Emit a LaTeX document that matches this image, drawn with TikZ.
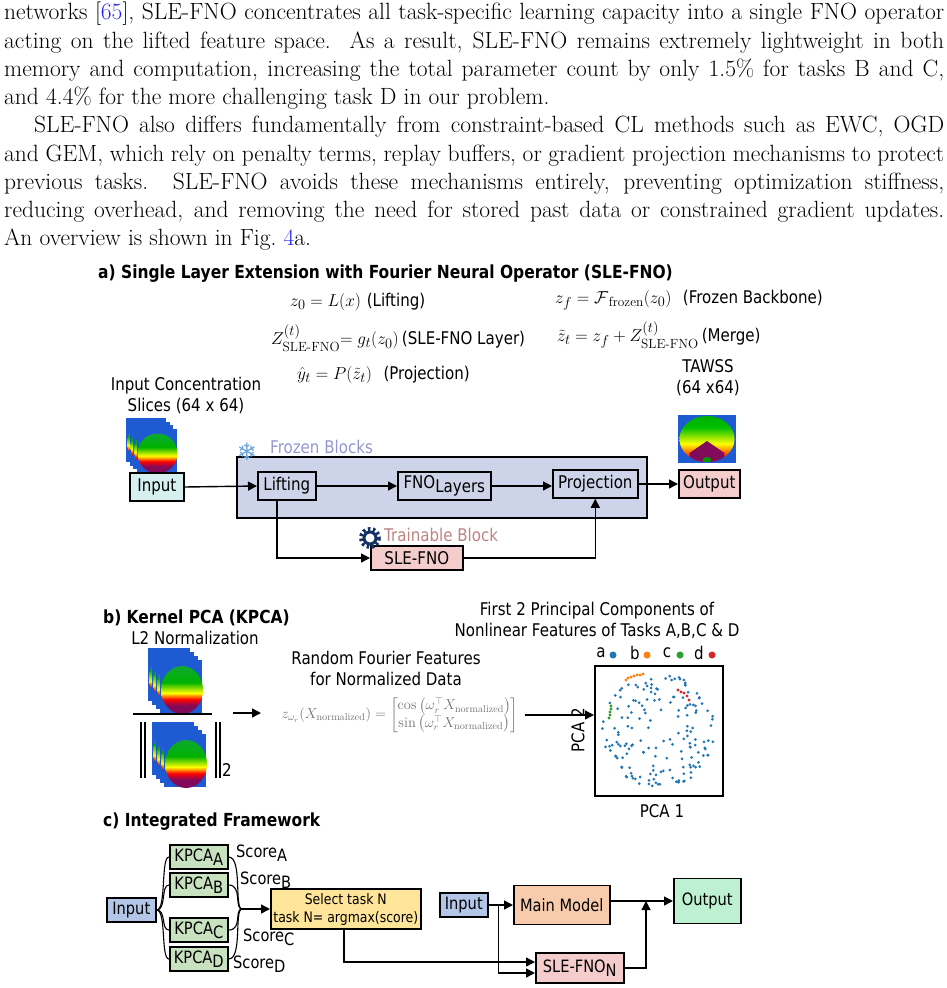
\documentclass[tikz,border=0pt]{standalone}
\usepackage{amsmath,amssymb}
\usepackage{graphicx}
\usepackage{fontspec}
\newfontfamily\dsf{DejaVu Sans}[FakeStretch=0.86]
\newfontfamily\dsfb{DejaVu Sans Bold}[FakeStretch=0.86]
\newfontfamily\djv{DejaVu Sans}
\usetikzlibrary{arrows.meta,calc}
\definecolor{linkblue}{RGB}{40,40,230}
\definecolor{frozenfill}{RGB}{205,211,232}
\definecolor{frozentxt}{RGB}{150,150,210}
\definecolor{traintxt}{RGB}{190,130,130}
\definecolor{pinkfill}{RGB}{244,204,204}
\definecolor{cyanfill}{RGB}{214,240,240}
\definecolor{bluefill}{RGB}{180,198,231}
\definecolor{greenfill}{RGB}{200,225,190}
\definecolor{yellowfill}{RGB}{255,229,153}
\definecolor{orangefill}{RGB}{248,203,173}
\definecolor{outgreen}{RGB}{190,240,210}
\definecolor{gearblue}{RGB}{20,50,100}
\definecolor{pa}{RGB}{31,119,180}
\definecolor{pb}{RGB}{255,127,14}
\definecolor{pc}{RGB}{44,160,44}
\definecolor{pd}{RGB}{214,39,40}
\definecolor{bgblue}{RGB}{30,90,210}
\definecolor{htop}{RGB}{40,150,140}
\definecolor{hpur}{RGB}{130,10,90}
\pgfdeclareverticalshading{heatsh}{100bp}{color(0bp)=(hpur); color(34bp)=(hpur); color(40bp)=(red); color(46bp)=(yellow); color(56bp)=(green!70!black); color(100bp)=(htop)}
\pgfdeclareverticalshading{tawsh}{100bp}{color(0bp)=(hpur); color(30bp)=(red); color(45bp)=(yellow); color(62bp)=(green!75!black); color(100bp)=(green!55!black)}
\tikzset{
  blk/.style={draw,line width=1.6pt,font=\dsf\fontsize{17.5}{20}\selectfont,inner sep=2.5pt,minimum height=28pt},
  lbl/.style={font=\dsf\fontsize{17.5}{21}\selectfont,align=center,inner sep=0pt},
  ttl/.style={font=\dsfb\fontsize{18}{20}\selectfont,anchor=west,inner sep=0pt},
  eq/.style={font=\fontsize{19}{22}\selectfont,anchor=west,inner sep=0pt},
  arr/.style={-{Triangle[length=9pt,width=9pt]},line width=1.4pt},
  heat/.pic={\fill[bgblue] (0,0) rectangle (40,44);
     \begin{scope}\clip (21,25) circle (20); \shade[shading=heatsh] (0,2) rectangle (42,46);\end{scope}},
  taw/.pic={\fill[bgblue] (0,0) rectangle (40,48);
     \begin{scope}\clip (20,24) ellipse (19 and 23); \shade[shading=tawsh] (0,0) rectangle (40,48);
     \fill[hpur] (8,38) -- (20,26) -- (32,38) -- (32,48) -- (8,48) -- cycle;
     \fill[green!60!black] (20,45) circle (3);\end{scope}},
}
\begin{document}
\begin{tikzpicture}[x=1pt,y=-1pt]
\useasboundingbox (0,0) rectangle (947,988);
% paragraph
\node[anchor=north west,inner sep=0pt] (para) at (4,2) {\parbox{940pt}{\fontsize{23.5}{28.25}\selectfont\setlength{\parindent}{30pt}\setlength{\parskip}{0pt}\hfuzz=100pt%
\noindent networks [\textcolor{linkblue}{65}], SLE-FNO concentrates all task-specific learning capacity into a single FNO operator\linebreak acting on the lifted feature space.\ \ As a result, SLE-FNO remains extremely lightweight in both\linebreak memory and computation, increasing the total parameter count by only 1.5\% for tasks B and C,\linebreak and 4.4\% for the more challenging task D in our problem.\par
SLE-FNO also differs fundamentally from constraint-based CL methods such as EWC, OGD\linebreak and GEM, which rely on penalty terms, replay buffers, or gradient projection mechanisms to protect\linebreak previous tasks.\ \ SLE-FNO avoids these mechanisms entirely, preventing optimization stiffness,\linebreak reducing overhead, and removing the need for stored past data or constrained gradient updates.\linebreak An overview is shown in Fig.~\textcolor{linkblue}{4}a.\par}};

% ---------- a)
\node[ttl] (ta) at (98,274) {a) Single Layer Extension with Fourier Neural Operator (SLE-FNO)};
\node[eq] (e1) at (290,302) {$z_0 = L(x)$ {\dsf\fontsize{17.5}{20}\selectfont(Lifting)}};
\node[eq] (e2) at (555,300) {$z_f = \mathcal{F}_{\,\mathrm{frozen}}(z_0)$\ \ {\dsf\fontsize{17.5}{20}\selectfont(Frozen Backbone)}};
\node[eq] (e3) at (340,338) {\llap{$Z^{(t)}_{\text{SLE-FNO}}$}$= g_t(z_0)$\,{\dsf\fontsize{17.5}{20}\selectfont(SLE-FNO Layer)}};
\node[eq] (e4) at (557,335) {$\tilde z_t = z_f + Z^{(t)}_{\text{SLE-FNO}}$\,{\dsf\fontsize{17.5}{20}\selectfont(Merge)}};
\node[eq] (e5) at (297,375) {$\hat y_t = P(\tilde z_t)$\ \ {\dsf\fontsize{17.5}{20}\selectfont(Projection)}};
\node[lbl] (icl) at (186,396) {Input Concentration\\Slices (64 x 64)};
\foreach \k in {0,...,3} \pic at (126+\k*3.5,418+\k*3.5) {heat};
\node[lbl] (tawl) at (708,378) {TAWSS\\(64 x64)};
\pic[xscale=1.45] at (678,415) {taw};
\node[blk,fill=cyanfill,anchor=west,minimum width=54pt] (in) at (129,487) {Input};
\node[draw,line width=1.6pt,fill=frozenfill,minimum width=410pt,minimum height=61pt,anchor=north west] (frz) at (236,456) {};
\node[font=\djv\fontsize{24}{24}\selectfont,text=cyan!60!blue!60,inner sep=0pt] (snow) at (247,452) {❄};
\node[lbl,text=frozentxt,anchor=west] (frl) at (270,447) {Frozen Blocks};
\node[blk,fill=frozenfill,anchor=west,minimum width=58pt] (lift) at (257,486) {Lifting};
\node[blk,fill=frozenfill,anchor=west,minimum width=93pt] (fno) at (397,486) {FNO\raisebox{-4pt}{Layers}};
\node[blk,fill=frozenfill,anchor=west,minimum width=85pt] (proj) at (552,484) {Projection};
\node[blk,fill=pinkfill,anchor=west,minimum width=61pt] (out) at (678,484) {Output};
\node[blk,fill=pinkfill,anchor=west,minimum width=92pt,minimum height=24pt] (sle) at (370,558) {SLE-FNO};
\node[circle,draw=gearblue,line width=3pt,minimum size=12pt,inner sep=0pt] (gear) at (370,538) {};
\draw[gearblue,line width=4pt,dash pattern=on 2.5pt off 2.5pt] (gear.center) circle (9);
\node[lbl,text=traintxt,anchor=west] (trl) at (384,535) {Trainable Block};
\draw[arr] (in.east) -- (lift.west);
\draw[arr] (lift.east) -- (fno.west);
\draw[arr] (fno.east) -- (fno.east -| proj.west);
\draw[arr] (proj.east) -- (proj.east -| out.west);
\draw[arr] ([xshift=-10pt]lift.south) |- (sle.west);
\draw[arr] (sle.east) -| (proj.south);

% ---------- b)
\node[ttl] (tb) at (103,618) {b) Kernel PCA (KPCA)};
\node[lbl] (l2) at (195,638) {L2 Normalization};
\foreach \k in {0,...,3} \pic[xscale=1.05,yscale=1.2] at (148+\k*4,648+\k*4) {heat};
\draw[line width=2pt] (133,714) coordinate (fl) -- (212,714) coordinate (fr);
\foreach \k in {0,...,3} \pic[xscale=1.05,yscale=1.2] at (152+\k*4,722+\k*4) {heat};
\draw[line width=1.2pt] (141,722) -- (141,778) (145,722) -- (145,778) (216,722) -- (216,778) (220,722) -- (220,778);
\node[lbl] (two) at (227,770) {2};
\node[lbl] (rff) at (386,668) {Random Fourier Features\\for Normalized Data};
\node[font=\fontsize{14.5}{16}\selectfont,text=black!55,inner sep=0pt] (form) at (400,715) {$z_{\omega_r}(X_{\mathrm{normalized}}) = \begin{bmatrix}\cos\left(\omega_r^{\top} X_{\mathrm{normalized}}\right)\\ \sin\left(\omega_r^{\top} X_{\mathrm{normalized}}\right)\end{bmatrix}$};
\draw[arr] (233,713) -- ++(28,0);
\node[draw,line width=1.5pt,minimum width=128pt,minimum height=130pt,anchor=north west] (plot) at (594,665) {};
\draw[arr] ($(form.east)+(6,0)$) -- (plot.west |- form.east);
\node[lbl,rotate=90] (pc2) at (578,730) {PCA 2};
\node[lbl] (pc1) at (662,811) {PCA 1};
\node[lbl] (ptl) at (597,620) {First 2 Principal Components of\\Nonlinear Features of Tasks A,B,C \& D};
\node[lbl] (la) at (601,653) {a}; \fill[pa] (613,655) circle (3.5);
\node[lbl] (lb) at (635,653) {b}; \fill[pb] (647,655) circle (3.5);
\node[lbl] (lc) at (667,653) {c}; \fill[pc] (680,655) circle (3.5);
\node[lbl] (ld) at (699,653) {d}; \fill[pd] (712,655) circle (3.5);
\pgfmathsetseed{7}
\foreach \i in {1,...,170}{
  \pgfmathsetmacro\ang{360*rnd}
  \pgfmathsetmacro\rr{57*(rnd)^0.35}
  \fill[pa] ($(plot.center)+(\ang:\rr)$) circle (1.5);
}
\foreach \x/\y in {628/678,631/677,634/676,637/675,640/675,643/674,626/680}{\fill[pb] (\x,\y) circle (1.6);}
\foreach \x/\y in {678/690,681/692,684/693,687/696,689/700}{\fill[pd] (\x,\y) circle (1.6);}
\foreach \x/\y in {611/709,610/712,610/715,609/718,611/706}{\fill[pc] (\x,\y) circle (1.6);}

% ---------- c)
\node[ttl] (tc) at (103,822) {c) Integrated Framework};
\tikzset{cb/.style={blk,minimum height=24pt,inner sep=1.5pt,font=\dsf\fontsize{17}{20}\selectfont}}
\node[cb,fill=bluefill,anchor=west,minimum width=49pt] (cin) at (106,910) {Input};
\node[cb,fill=greenfill,anchor=west,minimum width=58pt] (kA) at (169,857) {KPCA\raisebox{-4pt}{A}};
\node[cb,fill=greenfill,anchor=west,minimum width=58pt] (kB) at (169,885) {KPCA\raisebox{-4pt}{B}};
\node[cb,fill=greenfill,anchor=west,minimum width=58pt] (kC) at (169,930) {KPCA\raisebox{-4pt}{C}};
\node[cb,fill=greenfill,anchor=west,minimum width=58pt] (kD) at (169,959) {KPCA\raisebox{-4pt}{D}};
\node[lbl,anchor=west,font=\dsf\fontsize{17}{20}\selectfont] (sA) at (236,853) {Score\raisebox{-4pt}{A}};
\node[lbl,anchor=west,font=\dsf\fontsize{17}{20}\selectfont] (sB) at (240,880) {Score\raisebox{-4pt}{B}};
\node[lbl,anchor=west,font=\dsf\fontsize{17}{20}\selectfont] (sC) at (243,937) {Score\raisebox{-4pt}{C}};
\node[lbl,anchor=west,font=\dsf\fontsize{17}{20}\selectfont] (sD) at (233,964) {Score\raisebox{-4pt}{D}};
\node[blk,fill=yellowfill,anchor=west,align=center,minimum width=150pt,minimum height=40pt,font=\dsf\fontsize{14.5}{18}\selectfont] (sel) at (270,909) {Select task N\\task N= argmax(score)};
\coordinate (mg) at (242,909);
\foreach \k in {kA,kB,kC,kD}{
  \draw[line width=1.1pt] (cin.east) .. controls ($(cin.east)+(10,0)$) and ($(cin.east |- \k.west)+(4,0)$) .. (\k.west);
  \draw[line width=1.1pt] (\k.east) .. controls ($(\k.east)+(14,0)$) and ($(mg)+(-8,0)$) .. (mg);
}
\draw[arr] (mg) -- (sel.west);
\node[cb,fill=bluefill,anchor=west,minimum width=48pt] (cin2) at (439,905) {Input};
\node[blk,fill=orangefill,anchor=west,minimum width=96pt,minimum height=39pt,font=\dsf\fontsize{17}{20}\selectfont] (mm) at (513,905) {Main Model};
\node[blk,fill=outgreen,anchor=west,minimum width=67pt,minimum height=45pt,font=\dsf\fontsize{17}{20}\selectfont] (cout) at (673,901) {Output};
\node[blk,fill=pinkfill,anchor=west,minimum width=88pt,minimum height=30pt,font=\dsf\fontsize{17}{20}\selectfont] (sleN) at (535,968) {SLE-FNO\raisebox{-4pt}{N}};
\draw[arr] (cin2.east) -- (mm.west);
\draw[arr] ([xshift=10pt]cin2.east) |- ([yshift=-5pt]sleN.west);
\draw[arr] ([xshift=-2pt]sel.south) |- ([yshift=6pt]sleN.west);
\draw[arr] (mm.east |- cout.west) -- (cout.west);
\draw[arr] (sleN.east) -| ($(cout.west)+(-27,0)$);
\end{tikzpicture}
\end{document}
